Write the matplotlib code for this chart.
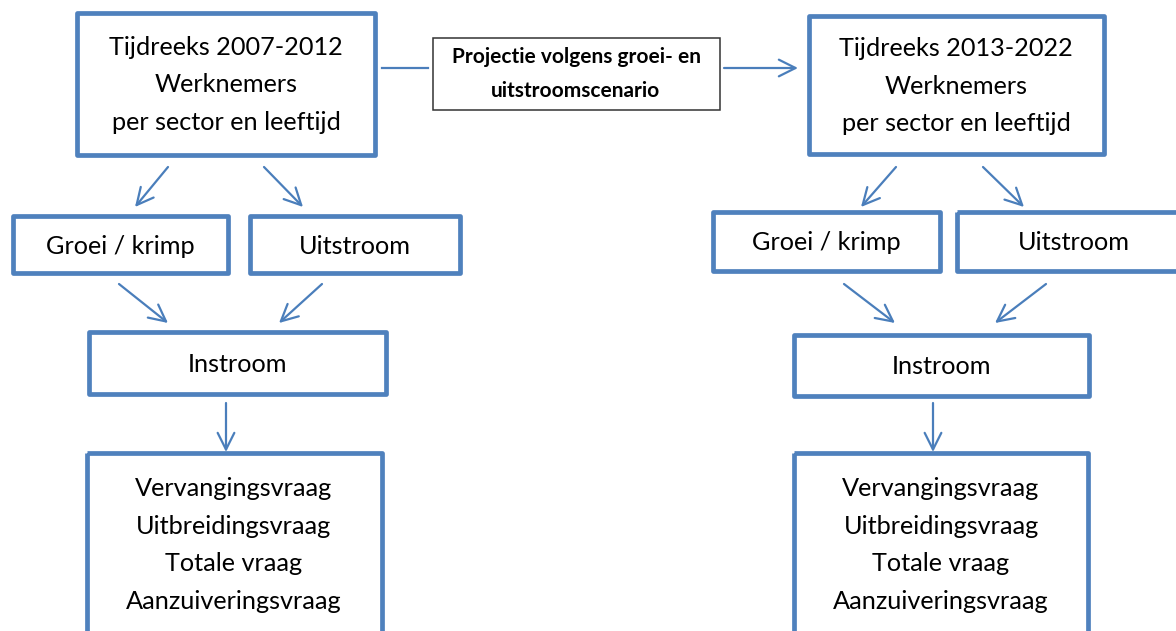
import matplotlib.pyplot as plt
from matplotlib.patches import Rectangle, FancyArrowPatch

# box texts
top_left = "Tijdreeks 2007-2012\nWerknemers\nper sector en leeftijd"
top_right = "Tijdreeks 2013-2022\nWerknemers\nper sector en leeftijd"
projectie = "Projectie volgens groei- en\nuitstroomscenario"
groei = "Groei / krimp"
uitstroom = "Uitstroom"
instroom = "Instroom"
vraag = "Vervangingsvraag\nUitbreidingsvraag\nTotale vraag\nAanzuiveringsvraag"

# layout in pixels: (x0, y0, x1, y1), text centre
blue_boxes = [
    ((77, 13, 375, 155), top_left, (226, 85)),
    ((809, 16, 1104, 154), top_right, (956, 86)),
    ((13, 216, 228, 273), groei, (120, 247)),
    ((250, 216, 460, 273), uitstroom, (355, 247)),
    ((713, 212, 940, 271), groei, (826, 243)),
    ((957, 212, 1191, 271), uitstroom, (1074, 243)),
    ((89, 332, 386, 394), instroom, (237, 364)),
    ((794, 335, 1089, 396), instroom, (941, 367)),
    ((87, 453, 382, 660), vraag, (234, 545)),
    ((794, 453, 1088, 660), vraag, (941, 545)),
]

arrows = [
    ((168, 167), (135, 207)), ((264, 167), (303, 207)),
    ((119, 284), (168, 323)), ((322, 284), (279, 323)),
    ((226, 403), (226, 452)),
    ((896, 167), (861, 207)), ((983, 167), (1024, 207)),
    ((844, 284), (895, 323)), ((1046, 284), (995, 323)),
    ((933, 403), (933, 452)),
    ((724, 68), (798, 68)),
]

blue = '#4F81BD'
line_blue = '#4A7EBB'

fig = plt.figure(figsize=(11.76, 6.31), dpi=100)
ax = fig.add_axes([0, 0, 1, 1])
ax.set_xlim(0, 1176)
ax.set_ylim(631, 0)
ax.axis('off')

for (x0, y0, x1, y1), label, (tx, ty) in blue_boxes:
    ax.add_patch(Rectangle((x0, y0), x1 - x0, y1 - y0, fill=False,
                           edgecolor=blue, lw=3.4, joinstyle='round'))
    ax.text(tx, ty, label, ha='center', va='center', fontsize=18.2,
            family='Lato', linespacing=1.78, color='black')

# middle box
ax.add_patch(Rectangle((433, 38), 287, 72, fill=False, edgecolor='#333333', lw=1.1))
ax.text(576, 74, projectie, ha='center', va='center', fontsize=15,
        family='Lato', weight='bold', linespacing=1.85)
ax.plot([382, 428], [68, 68], color=line_blue, lw=1.6)

for start, end in arrows:
    ax.add_patch(FancyArrowPatch(start, end, arrowstyle='->, head_length=0.6, head_width=0.3',
                                 mutation_scale=20, color=line_blue, lw=1.6,
                                 shrinkA=0, shrinkB=0))

fig.savefig('out.png', dpi=100)
